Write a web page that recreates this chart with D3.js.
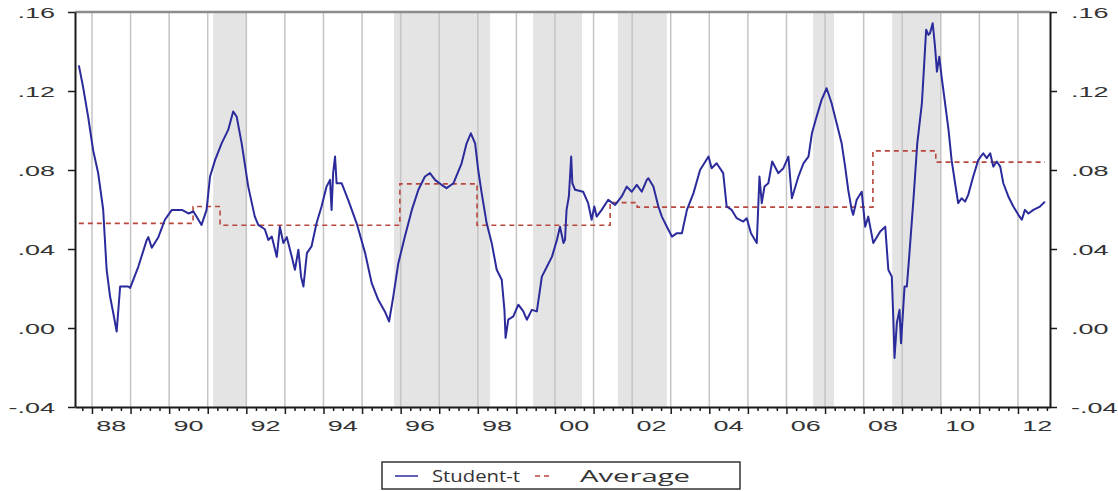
<!DOCTYPE html>
<html>
<head>
<meta charset="utf-8">
<script src="https://cdn.jsdelivr.net/npm/d3@7"></script>
<style>
  body { margin: 0; background: #ffffff; }
  svg { display: block; }
</style>
</head>
<body>
<svg id="chart"></svg>
<script>
// series: Student-t (year as decimal, value)
var studentYears = [
  1987.66, 1987.77, 1987.90, 1988.03, 1988.16, 1988.29, 1988.38, 1988.47, 1988.55, 1988.64,
  1988.73, 1988.94, 1988.99, 1989.20, 1989.42, 1989.46, 1989.55, 1989.72, 1989.89, 1990.07,
  1990.33, 1990.50, 1990.63, 1990.84, 1990.97, 1991.06, 1991.19, 1991.36, 1991.53, 1991.66,
  1991.75, 1991.88, 1992.05, 1992.22, 1992.31, 1992.48, 1992.57, 1992.66, 1992.79, 1992.87,
  1992.96, 1993.05, 1993.18, 1993.26, 1993.35, 1993.42, 1993.48, 1993.57, 1993.69, 1993.82,
  1993.95, 1994.08, 1994.17, 1994.21, 1994.25, 1994.30, 1994.34, 1994.47, 1994.64, 1994.86,
  1995.08, 1995.25, 1995.42, 1995.59, 1995.70, 1995.81, 1995.94, 1996.11, 1996.29, 1996.46,
  1996.63, 1996.76, 1996.89, 1997.06, 1997.19, 1997.37, 1997.58, 1997.71, 1997.82, 1997.93,
  1998.01, 1998.10, 1998.23, 1998.36, 1998.49, 1998.62, 1998.69, 1998.72, 1998.79, 1998.92,
  1999.05, 1999.18, 1999.27, 1999.40, 1999.53, 1999.66, 1999.79, 1999.92, 2000.05, 2000.13,
  2000.22, 2000.26, 2000.30, 2000.36, 2000.42, 2000.45, 2000.52, 2000.73, 2000.86, 2000.95,
  2001.02, 2001.08, 2001.21, 2001.38, 2001.56, 2001.73, 2001.86, 2001.99, 2002.12, 2002.25,
  2002.38, 2002.42, 2002.55, 2002.68, 2002.77, 2002.90, 2003.03, 2003.16, 2003.29, 2003.42,
  2003.59, 2003.76, 2003.98, 2004.06, 2004.19, 2004.36, 2004.45, 2004.58, 2004.71, 2004.88,
  2004.97, 2005.08, 2005.23, 2005.30, 2005.36, 2005.43, 2005.53, 2005.63, 2005.79, 2005.92,
  2006.05, 2006.14, 2006.31, 2006.44, 2006.57, 2006.66, 2006.78, 2006.91, 2007.04, 2007.17,
  2007.30, 2007.43, 2007.52, 2007.60, 2007.69, 2007.73, 2007.82, 2007.95, 2008.04, 2008.12,
  2008.25, 2008.43, 2008.56, 2008.64, 2008.73, 2008.77, 2008.80, 2008.86, 2008.93, 2008.97,
  2009.06, 2009.12, 2009.18, 2009.29, 2009.39, 2009.51, 2009.57, 2009.62, 2009.68, 2009.72,
  2009.79, 2009.85, 2009.90, 2009.96, 2010.02, 2010.11, 2010.20, 2010.28, 2010.37, 2010.45,
  2010.54, 2010.63, 2010.71, 2010.84, 2010.97, 2011.10, 2011.19, 2011.28, 2011.36, 2011.45,
  2011.54, 2011.62, 2011.75, 2011.88, 2012.01, 2012.10, 2012.18, 2012.27, 2012.40, 2012.57,
  2012.70
];
var studentValues = [
  0.133, 0.122, 0.107, 0.090, 0.0785, 0.060, 0.0295, 0.0158, 0.0077, -0.0018,
  0.021, 0.021, 0.0203, 0.031, 0.0446, 0.046, 0.0406, 0.046, 0.0548, 0.0598,
  0.0598, 0.058, 0.059, 0.0522, 0.0598, 0.0767, 0.085, 0.0935, 0.1003, 0.1096,
  0.107, 0.0935, 0.0716, 0.0564, 0.0522, 0.050, 0.0446, 0.0463, 0.036, 0.0513,
  0.043, 0.046, 0.036, 0.0295, 0.0396, 0.026, 0.021, 0.0379, 0.0413, 0.053,
  0.0615, 0.0716, 0.075, 0.0598, 0.0784, 0.0868, 0.0733, 0.0733, 0.0649, 0.053,
  0.0379, 0.0227, 0.0143, 0.0084, 0.0033, 0.016, 0.0328, 0.0463, 0.0598, 0.070,
  0.0767, 0.0784, 0.075, 0.0725, 0.0708, 0.0733, 0.0834, 0.0935, 0.0986, 0.0935,
  0.080, 0.0683, 0.053, 0.043, 0.0295, 0.0244, 0.0092, -0.005, 0.0042, 0.0059,
  0.0118, 0.0084, 0.0042, 0.0092, 0.0084, 0.026, 0.031, 0.036, 0.0446, 0.0513,
  0.043, 0.0446, 0.0598, 0.0666, 0.0868, 0.0733, 0.070, 0.069, 0.0632, 0.0548,
  0.0615, 0.0564, 0.0598, 0.0649, 0.0623, 0.0666, 0.0716, 0.069, 0.0725, 0.069,
  0.075, 0.0758, 0.0716, 0.0615, 0.0564, 0.0513, 0.0463, 0.048, 0.048, 0.0598,
  0.0683, 0.080, 0.0868, 0.0809, 0.0834, 0.0784, 0.0615, 0.0598, 0.0556, 0.0539,
  0.0556, 0.048, 0.043, 0.0767, 0.0632, 0.0716, 0.0733, 0.0843, 0.0784, 0.0809,
  0.0868, 0.0657, 0.0767, 0.0834, 0.0868, 0.0986, 0.107, 0.1155, 0.1214, 0.1138,
  0.1037, 0.0935, 0.0817, 0.070, 0.0598, 0.0573, 0.0649, 0.069, 0.0513, 0.0564,
  0.043, 0.0489, 0.0513, 0.0295, 0.026, 0.0042, -0.0152, 0.0025, 0.0092, -0.0077,
  0.021, 0.021, 0.036, 0.0649, 0.0935, 0.1138, 0.134, 0.151, 0.1484, 0.1492,
  0.1543, 0.1424, 0.1298, 0.1374, 0.1273, 0.1138, 0.1003, 0.085, 0.0733, 0.0632,
  0.0657, 0.064, 0.0674, 0.0767, 0.085, 0.0885, 0.086, 0.0885, 0.0817, 0.0843,
  0.0817, 0.0733, 0.0666, 0.0615, 0.0573, 0.0548, 0.0598, 0.058, 0.0598, 0.0615,
  0.064
];

// series: Average (step changes)
var averageYears  = [1987.66, 1990.62, 1991.32, 1995.98, 1997.98, 2001.43, 2002.13, 2008.24, 2009.87, 2012.70];
var averageValues = [0.053, 0.0615, 0.052, 0.073, 0.052, 0.0635, 0.0612, 0.0897, 0.0840, 0.0840];

// shaded periods
var bandStarts = [1991.14, 1995.83, 1999.43, 2001.63, 2006.69, 2008.74];
var bandEnds   = [1992.02, 1998.32, 2000.70, 2002.90, 2007.23, 2009.98];

// axis ticks
var yTicks = [-0.04, 0.00, 0.04, 0.08, 0.12, 0.16];
var yTickLabels = ["-.04", ".00", ".04", ".08", ".12", ".16"];
var xLabelYears = [1988, 1990, 1992, 1994, 1996, 1998, 2000, 2002, 2004, 2006, 2008, 2010, 2012];
var xLabels = ["88", "90", "92", "94", "96", "98", "00", "02", "04", "06", "08", "10", "12"];

var legendNames = ["Student-t", "Average"];

// parameters
var width = 1118;
var height = 491;
var plotLeft = 75;
var plotRight = 1050;
var plotTop = 12;
var plotBottom = 407;
var stretch = 1.8; // text in the picture is drawn wide

var svg = d3.select("#chart");
svg.attr("width", width);
svg.attr("height", height);

var x = d3.scaleLinear().domain([1987.56, 2012.83]).range([plotLeft, plotRight]);
var y = d3.scaleLinear().domain([-0.04, 0.16]).range([plotBottom, plotTop]);

var font = "'Liberation Sans', Arial, sans-serif";

// shaded bands
for (var i = 0; i < bandStarts.length; i += 1) {
  var band = svg.append("rect");
  band.attr("x", x(bandStarts[i]));
  band.attr("y", plotTop);
  band.attr("width", x(bandEnds[i]) - x(bandStarts[i]));
  band.attr("height", plotBottom - plotTop);
  band.attr("fill", "#e4e4e4");
}

// vertical grid, one per year
for (var yr = 1988; yr <= 2012; yr += 1) {
  var grid = svg.append("line");
  grid.attr("x1", x(yr));
  grid.attr("x2", x(yr));
  grid.attr("y1", plotTop);
  grid.attr("y2", plotBottom);
  grid.attr("stroke", "#c4c4c4");
  grid.attr("stroke-width", 1.5);
}

// average line
var avgData = averageYears.map(function (d, i) { return [x(d), y(averageValues[i])]; });
var avg = svg.append("path");
avg.attr("d", d3.line().curve(d3.curveStepAfter)(avgData));
avg.attr("stroke", "#b8473c");
avg.attr("stroke-width", 1.6);
avg.attr("stroke-dasharray", "5,4");
avg.attr("fill", "none");

// student-t line
var lineData = studentYears.map(function (d, i) { return [x(d), y(studentValues[i])]; });
var line = svg.append("path");
line.attr("d", d3.line()(lineData));
line.attr("stroke", "#2b2b9c");
line.attr("stroke-width", 2);
line.attr("stroke-linejoin", "round");
line.attr("fill", "none");

// frame top
var topLine = svg.append("line");
topLine.attr("x1", plotLeft).attr("x2", plotRight).attr("y1", plotTop).attr("y2", plotTop);
topLine.attr("stroke", "#8c8c8c").attr("stroke-width", 2.5);

// left and right axes
var leftAxis = svg.append("g").attr("transform", "translate(" + plotLeft + ",0)");
leftAxis.call(d3.axisLeft(y).tickValues(yTicks).tickSize(7).tickSizeOuter(0).tickFormat(function (d, i) { return yTickLabels[i]; }));
var rightAxis = svg.append("g").attr("transform", "translate(" + plotRight + ",0)");
rightAxis.call(d3.axisRight(y).tickValues(yTicks).tickSize(7).tickSizeOuter(0).tickFormat(function (d, i) { return yTickLabels[i]; }));

[leftAxis, rightAxis].forEach(function (ax) {
  ax.select(".domain").attr("stroke", "#1a1a1a").attr("stroke-width", 2);
  ax.selectAll(".tick line").attr("stroke", "#1a1a1a").attr("stroke-width", 1.5);
  ax.selectAll(".tick text")
    .attr("font-family", font)
    .attr("font-size", 15)
    .attr("fill", "#333333")
    .attr("x", null)
    .attr("dy", "0.36em");
});
leftAxis.selectAll(".tick text").attr("text-anchor", "end")
  .attr("transform", "translate(-20,0) scale(" + stretch + ",1)");
rightAxis.selectAll(".tick text").attr("text-anchor", "start")
  .attr("transform", "translate(21,0) scale(" + stretch + ",1)");

// bottom axis: quarter minor ticks and year major ticks
var minorTicks = [];
for (var q = 1987.75; q < 2012.83; q += 0.25) {
  if (Math.abs(q - Math.round(q)) > 0.01) minorTicks.push(q);
}
var minorAxis = svg.append("g").attr("transform", "translate(0," + plotBottom + ")");
minorAxis.call(d3.axisBottom(x).tickValues(minorTicks).tickSize(4).tickFormat(""));
minorAxis.select(".domain").remove();
minorAxis.selectAll(".tick line").attr("stroke", "#1a1a1a").attr("stroke-width", 1.5);

var majorAxis = svg.append("g").attr("transform", "translate(0," + plotBottom + ")");
majorAxis.call(d3.axisBottom(x).tickValues(d3.range(1988, 2013)).tickSize(7).tickSizeOuter(0).tickFormat(""));
majorAxis.select(".domain").attr("stroke", "#1a1a1a").attr("stroke-width", 2);
majorAxis.selectAll(".tick line").attr("stroke", "#1a1a1a").attr("stroke-width", 1.5);

// year labels sit in the middle of the year
for (var i = 0; i < xLabelYears.length; i += 1) {
  var text = svg.append("text");
  text.attr("transform", "translate(" + x(xLabelYears[i] + 0.5) + ",431) scale(" + stretch + ",1)");
  text.attr("text-anchor", "middle");
  text.attr("font-family", font);
  text.attr("font-size", 15);
  text.attr("fill", "#333333");
  text.text(xLabels[i]);
}

// legend
var legend = svg.append("rect");
legend.attr("x", 382).attr("y", 462).attr("width", 358).attr("height", 27);
legend.attr("fill", "#ffffff").attr("stroke", "#333333").attr("stroke-width", 1.5);

var keyLine = svg.append("line");
keyLine.attr("x1", 395).attr("x2", 418).attr("y1", 476).attr("y2", 476);
keyLine.attr("stroke", "#2b2b9c").attr("stroke-width", 1.5);

var keyDash = svg.append("line");
keyDash.attr("x1", 535).attr("x2", 553).attr("y1", 476).attr("y2", 476);
keyDash.attr("stroke", "#b8473c").attr("stroke-width", 1.5).attr("stroke-dasharray", "5,4");

var legendX = [432, 580];
var legendW = [88, 110];
for (var i = 0; i < legendNames.length; i += 1) {
  var lt = svg.append("text");
  lt.attr("x", legendX[i]);
  lt.attr("y", 482);
  lt.attr("font-family", "'Open Sans', sans-serif");
  lt.attr("font-size", 16);
  lt.attr("fill", "#333333");
  lt.attr("textLength", legendW[i]);
  lt.attr("lengthAdjust", "spacingAndGlyphs");
  lt.text(legendNames[i]);
}
</script>
</body>
</html>
